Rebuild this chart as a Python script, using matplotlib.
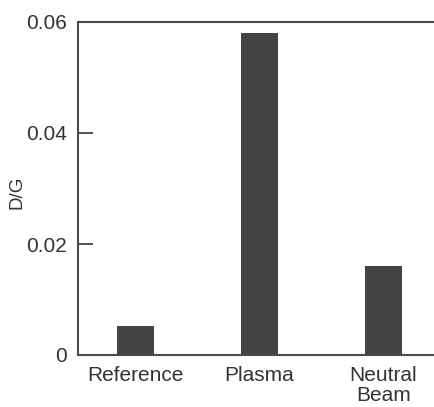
import matplotlib
matplotlib.use("Agg")
import matplotlib.pyplot as plt

categories = ["Reference", "Plasma", "Neutral\nBeam"]
dg_ratio = [0.0052, 0.058, 0.016]
yticks = [0, 0.02, 0.04, 0.06]
ytick_labels = ["0", "0.02", "0.04", "0.06"]

plt.rcParams.update({"font.family": ["Liberation Sans", "DejaVu Sans"]})

fig = plt.figure(figsize=(4.34, 4.07), dpi=100)
# axes runs off the right edge of the figure
ax = fig.add_axes([78 / 434, 52 / 407, 1.0, 333 / 407])

ax.bar(range(len(categories)), dg_ratio, width=0.30, color="#434343")
ax.set_xlim(-0.464, -0.464 + 434 / 124)
ax.set_ylim(0, 0.06)

ax.set_xticks(range(len(categories)))
ax.set_xticklabels(categories, fontsize=15, color="#333333", linespacing=1.05)
ax.tick_params(axis="x", length=0, pad=8)
ax.set_yticks(yticks)
ax.set_yticklabels(ytick_labels, fontsize=15, color="#333333")
ax.tick_params(axis="y", direction="in", length=11, width=1.3, color="#444444", pad=8)
ax.set_ylabel("D/G", fontsize=13.5, color="#333333")
ax.yaxis.set_label_coords(-0.12, 0.49)

for s in ["left", "bottom", "top"]:
    ax.spines[s].set_linewidth(1.5)
    ax.spines[s].set_color("#4a4a4a")
ax.spines["right"].set_visible(False)

fig.savefig("out.png", dpi=100)
